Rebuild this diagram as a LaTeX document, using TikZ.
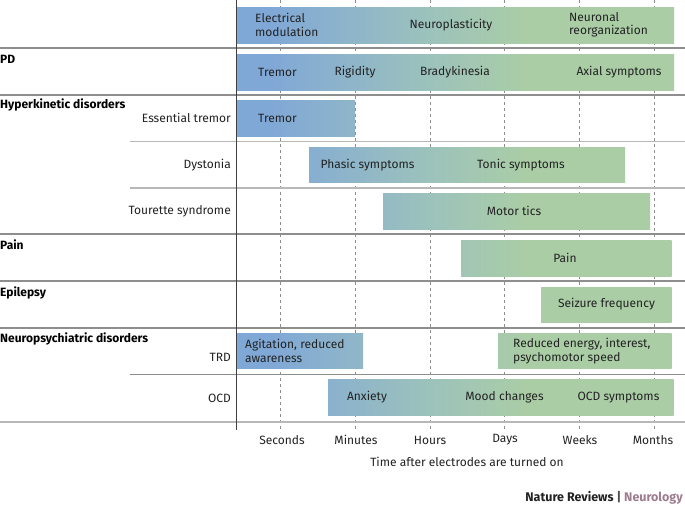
\documentclass[tikz,border=0pt]{standalone}
\usepackage{fontspec}
\setmainfont{Fira Sans}
\definecolor{barblue}{HTML}{80A8D6}
\definecolor{barteal}{HTML}{9CC2BC}
\definecolor{bargreen}{HTML}{AACDA6}
\definecolor{txt}{HTML}{222222}
\definecolor{rule}{HTML}{8E8E8E}
\definecolor{rulelight}{HTML}{B8B8B8}
\definecolor{mauve}{HTML}{9C7C8E}
\pgfdeclarehorizontalshading{bargrad}{100bp}{color(0bp)=(barblue); color(29bp)=(barblue); color(47bp)=(barteal); color(58bp)=(bargreen); color(100bp)=(bargreen)}
\newcommand{\gbar}[4]{%
  \begin{scope}
    \clip (#1,#2) rectangle (#3,#4);
    \shade[shading=bargrad] (236,0) rectangle (674,430);
  \end{scope}}
\begin{document}
\begin{tikzpicture}[x=1pt,y=-1pt,
  every node/.style={text=txt,font=\fontsize{12}{13.5}\selectfont,inner sep=0pt},
  grp/.style={anchor=west,font=\fontsize{12}{13.5}\selectfont\bfseries,text=black},
  sub/.style={anchor=east},
  two/.style={align=left,anchor=west},
  hrule/.style={draw=rule,line width=1.1pt},
  hlight/.style={draw=rulelight,line width=1.1pt},
  vdash/.style={draw=rule,line width=0.8pt,dash pattern=on 3pt off 3pt},
  vaxis/.style={draw=black!75,line width=0.9pt}]
\useasboundingbox (0,0) rectangle (685,506);
\fill[white] (0,0) rectangle (685,506);

% dashed time lines
\foreach \xx/\nm in {280.5/sec,355/min,430/hrs,504.5/day,579/wk,654/mon}{
  \coordinate (top\nm) at (\xx,0);
  \coordinate (bot\nm) at (\xx,432);
  \draw[vdash] (top\nm) -- (bot\nm);
}

% horizontal rules
\coordinate (l48) at (0,48);   \coordinate (r48) at (685,48);
\coordinate (l95) at (0,95);   \coordinate (r95) at (685,95);
\coordinate (l141) at (130,141.5); \coordinate (r141) at (685,141.5);
\coordinate (l188) at (130,188); \coordinate (r188) at (685,188);
\coordinate (l234) at (0,234); \coordinate (r234) at (685,234);
\coordinate (l281) at (0,281); \coordinate (r281) at (685,281);
\coordinate (l328) at (0,328); \coordinate (r328) at (685,328);
\coordinate (l374) at (130,374.5); \coordinate (r374) at (685,374.5);
\coordinate (l421) at (0,421.5); \coordinate (r421) at (685,421.5);
\draw[hrule] (l48) -- (r48);
\draw[hrule] (l95) -- (r95);
\draw[hlight] (l141) -- (r141);
\draw[hlight] (l188) -- (r188);
\draw[hrule] (l234) -- (r234);
\draw[hrule] (l281) -- (r281);
\draw[hrule] (l328) -- (r328);
\draw[hrule] (l374) -- (r374);
\draw[hlight,line width=2pt] (l421) -- (r421);

% vertical axis
\coordinate (axtop) at (236,0);
\coordinate (axbot) at (236,430);
\draw[vaxis] (axtop) -- (axbot);

% bars
\gbar{237}{7}{674}{43}
\gbar{237}{54}{674}{90}
\gbar{237}{100}{355}{136}
\gbar{309}{147}{625}{182.5}
\gbar{383}{193.5}{650}{229}
\gbar{461}{240}{671.5}{276}
\gbar{541}{287}{671.5}{322}
\gbar{237}{333}{363}{368}
\gbar{498}{333}{671.5}{368}
\gbar{328}{379.5}{673.5}{415}

% header bar texts
\node[two] (elec) at (255,25) {Electrical\\modulation};
\node (neuro) at (451,25) {Neuroplasticity};
\node[two] (reorg) at (569,25) {Neuronal\\reorganization};

% PD
\node[grp] (pd) at (0,59) {PD};
\node (pd1) at (277.5,72) {Tremor};
\node (pd2) at (355,72) {Rigidity};
\node (pd3) at (455,72) {Bradykinesia};
\node (pd4) at (619,72) {Axial symptoms};

% Hyperkinetic
\node[grp] (hyp) at (0,104.5) {Hyperkinetic disorders};
\node[sub] (et) at (231,118) {Essential tremor};
\node (et1) at (277.5,118) {Tremor};
\node[sub] (dys) at (231,165) {Dystonia};
\node (dys1) at (367.5,165) {Phasic symptoms};
\node (dys2) at (521,165) {Tonic symptoms};
\node[sub] (ts) at (231,211) {Tourette syndrome};
\node (ts1) at (514,211) {Motor tics};

% Pain
\node[grp] (pain) at (0,245) {Pain};
\node (pain1) at (565,258) {Pain};

% Epilepsy
\node[grp] (epi) at (0,292.5) {Epilepsy};
\node (epi1) at (606.5,304.5) {Seizure frequency};

% Neuropsychiatric
\node[grp] (np) at (0,339) {Neuropsychiatric disorders};
\node[sub] (trd) at (231,357.5) {TRD};
\node[two] (trd1) at (245,351) {Agitation, reduced\\awareness};
\node[two] (trd2) at (513,351) {Reduced energy, interest,\\psychomotor speed};
\node[sub] (ocd) at (231,398) {OCD};
\node (ocd1) at (367,397.5) {Anxiety};
\node (ocd2) at (504.5,397.5) {Mood changes};
\node (ocd3) at (618.5,397.5) {OCD symptoms};

% axis labels
\node (sec) at (282,440) {Seconds};
\node (min) at (356,440) {Minutes};
\node (hrs) at (430,440) {Hours};
\node (day) at (505,440) {Days};
\node (wk) at (580,440) {Weeks};
\node (mon) at (653,440) {Months};
\node (time) at (467,462) {Time after electrodes are turned on};

% footer
\node[anchor=east,font=\fontsize{12.5}{14}\selectfont\bfseries] (foot) at (683,498) {Nature Reviews {\color{black!70}|} {\color{mauve}Neurology}};
\end{tikzpicture}
\end{document}
